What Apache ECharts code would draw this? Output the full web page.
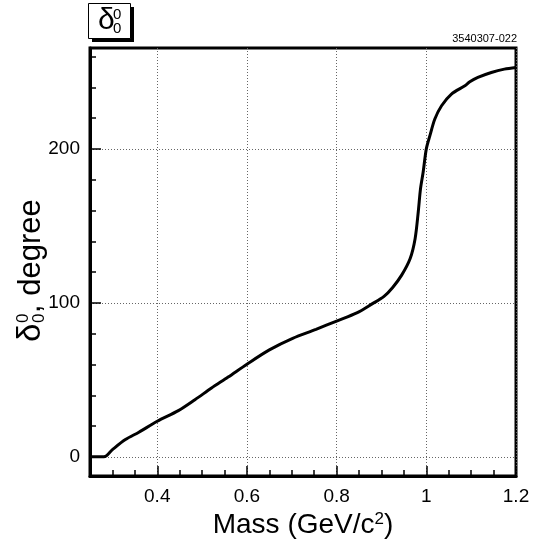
<!DOCTYPE html>
<html><head><meta charset="utf-8">
<script src="https://cdn.jsdelivr.net/npm/echarts@6/dist/echarts.min.js"></script>
<style>html,body{margin:0;padding:0;background:#fff}#c{width:533px;height:544px}</style>
</head><body><div id="c"></div>
<script>
const mass = [0.25, 0.281, 0.300, 0.329, 0.359, 0.400, 0.447, 0.484, 0.521, 0.558, 0.600, 0.650, 0.702, 0.754, 0.800, 0.845, 0.880, 0.905, 0.925, 0.945, 0.964, 0.975, 0.982, 0.987, 0.993, 1.000, 1.008, 1.019, 1.034, 1.056, 1.086, 1.097, 1.115, 1.145, 1.174, 1.200];
const delta = [0, 0, 4.7, 11.2, 16.0, 23.1, 30.0, 37.1, 44.7, 51.8, 60.2, 69.5, 77.0, 82.8, 88.2, 93.5, 99.5, 104, 110, 118, 128.8, 141.7, 159, 174, 185, 200, 208.6, 219.4, 228, 235.6, 241, 243.6, 246.4, 249.6, 251.8, 252.9];
const xMinorTicks = [0.3, 0.35, 0.45, 0.5, 0.55, 0.65, 0.7, 0.75, 0.85, 0.9, 0.95, 1.05, 1.1, 1.15];
const xMajorTicks = [0.4, 0.6, 0.8, 1.0, 1.2];
const yMinorTicks = [20, 40, 60, 80, 120, 140, 160, 180, 220, 240, 260];
const yMajorTicks = [0, 100, 200];
const xRange = [0.25, 1.2];
const yRange = [-12.5, 265.5];
const tagText = '3540307-022';

const chart = echarts.init(document.getElementById('c'));
const FONT = 'Liberation Sans';
const dotted = {type: [1, 2], color: '#666', width: 1};
function baseAxis(extra) {
  return Object.assign({type: 'value', splitLine: {show: false}}, extra);
}
chart.setOption({
  animation: false,
  backgroundColor: '#fff',
  textStyle: {fontFamily: FONT},
  grid: {left: 90, right: 17, top: 48, bottom: 66, show: true, borderColor: '#000', borderWidth: 3, containLabel: false},
  xAxis: [
    baseAxis({min: xRange[0], max: xRange[1], position: 'bottom',
      axisLine: {show: true, onZero: false, lineStyle: {color: '#000', width: 3}},
      axisTick: {show: true, inside: true, length: 6, customValues: xMinorTicks, lineStyle: {color: '#000', width: 1.5}},
      axisLabel: {show: false}}),
    baseAxis({min: xRange[0], max: xRange[1], position: 'bottom',
      axisLine: {show: false, onZero: false},
      axisTick: {show: true, inside: true, length: 10, customValues: xMajorTicks, lineStyle: {color: '#000', width: 1.5}},
      axisLabel: {show: true, customValues: xMajorTicks, fontSize: 19, color: '#000', margin: 11, fontFamily: FONT,
        formatter: v => String(Math.round(v * 10) / 10)},
      splitLine: {show: true, lineStyle: dotted},
      name: 'Mass (GeV/c{sup|2})', nameLocation: 'middle', nameGap: 30,
      nameTextStyle: {fontSize: 28, color: '#000', fontFamily: FONT,
        rich: {sup: {fontSize: 17, verticalAlign: 'top', color: '#000', fontFamily: FONT}}}})
  ],
  yAxis: [
    baseAxis({min: yRange[0], max: yRange[1], position: 'left',
      axisLine: {show: true, onZero: false, lineStyle: {color: '#000', width: 3}},
      axisTick: {show: true, inside: true, length: 6, customValues: yMinorTicks, lineStyle: {color: '#000', width: 1.5}},
      axisLabel: {show: false}}),
    baseAxis({min: yRange[0], max: yRange[1], position: 'left',
      axisLine: {show: false, onZero: false},
      axisTick: {show: true, inside: true, length: 11, customValues: yMajorTicks, lineStyle: {color: '#000', width: 1.5}},
      axisLabel: {show: true, customValues: yMajorTicks, fontSize: 19, color: '#000', margin: 10, fontFamily: FONT,
        padding: [2, 0, 0, 0]},
      splitLine: {show: true, lineStyle: dotted}})
  ],
  series: [{
    type: 'line', xAxisIndex: 0, yAxisIndex: 0,
    data: mass.map((m, i) => [m, delta[i]]),
    showSymbol: false, smooth: 0.3,
    lineStyle: {color: '#000', width: 3}, z: 5, clip: true
  }],
  graphic: [
    {type: 'rect', shape: {x: 92, y: 7, width: 42, height: 35}, z: 99, style: {fill: '#000'}},
    {type: 'rect', shape: {x: 88.5, y: 3.5, width: 42, height: 35}, z: 100,
      style: {fill: '#fff', stroke: '#000', lineWidth: 1}},
    {type: 'text', x: 98, y: 21, z: 101, style: {text: 'δ', fontSize: 30, fontFamily: FONT, fill: '#000', verticalAlign: 'middle', align: 'left'}},
    {type: 'text', x: 113, y: 15, z: 101, style: {text: '0', fontSize: 15, fontFamily: FONT, fill: '#000', verticalAlign: 'middle', align: 'left'}},
    {type: 'text', x: 113, y: 29, z: 101, style: {text: '0', fontSize: 15, fontFamily: FONT, fill: '#000', verticalAlign: 'middle', align: 'left'}},
    {type: 'text', right: 16, top: 33, z: 101, style: {text: tagText, fontSize: 11, fontFamily: FONT, fill: '#000'}},
    {type: 'group', x: 31, y: 262, rotation: Math.PI / 2, z: 101, children: [
      {type: 'text', x: -80, y: 0, style: {text: 'δ', fontSize: 33, fontFamily: FONT, fill: '#000', verticalAlign: 'middle'}},
      {type: 'text', x: -61, y: -8, style: {text: '0', fontSize: 17, fontFamily: FONT, fill: '#000', verticalAlign: 'middle'}},
      {type: 'text', x: -61, y: 8, style: {text: '0', fontSize: 17, fontFamily: FONT, fill: '#000', verticalAlign: 'middle'}},
      {type: 'text', x: -51, y: 0, style: {text: ', degree', fontSize: 31, fontFamily: FONT, fill: '#000', verticalAlign: 'middle'}}
    ]}
  ]
});
</script></body></html>
